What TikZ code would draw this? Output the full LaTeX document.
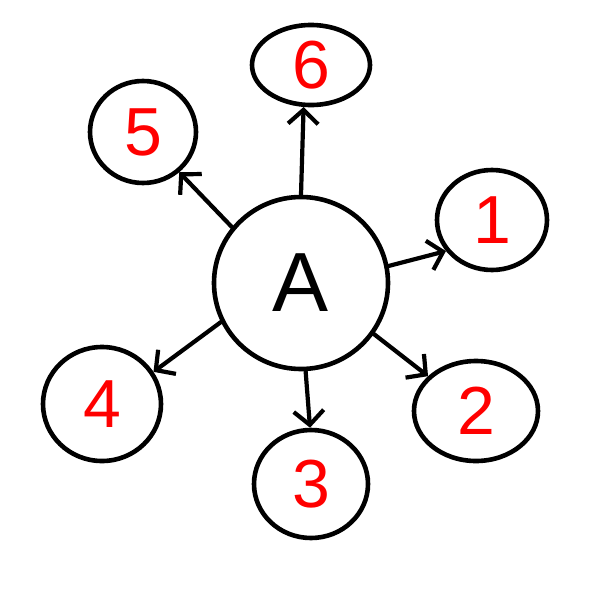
\documentclass[tikz,border=0pt]{standalone}
\usepackage{fontspec}
\setmainfont{Liberation Sans}
\usetikzlibrary{shapes.geometric,arrows.meta}
\begin{document}
\begin{tikzpicture}[x=1pt,y=-1pt,
  bubble/.style={ellipse,draw=black,line width=4.6pt,inner sep=0pt,text=red,
    font=\fontsize{68}{68}\selectfont},
  hub/.style={ellipse,draw=black,line width=4.6pt,inner sep=0pt,text=black,
    font=\fontsize{84}{84}\selectfont},
  link/.style={line width=4.2pt,line cap=round,
    -{Straight Barb[length=14pt,width=30pt,line width=4.2pt]}}]
\useasboundingbox (0,0) rectangle (600,600);
\fill[white] (0,0) rectangle (600,600);
\node[hub,minimum width=174pt,minimum height=172pt] (A) at (301,283) {A};
\node[bubble,minimum width=118pt,minimum height=80pt] (n6) at (311,65) {6};
\node[bubble,minimum width=106pt,minimum height=102pt] (n5) at (143,132) {5};
\node[bubble,minimum width=110pt,minimum height=100pt] (n1) at (492,220) {1};
\node[bubble,minimum width=124pt,minimum height=100pt] (n2) at (476,411) {2};
\node[bubble,minimum width=114pt,minimum height=108pt] (n3) at (311,484) {3};
\node[bubble,minimum width=118pt,minimum height=114pt] (n4) at (102,404) {4};
\draw[link] (A.90) -- (n6.-100);
\draw[link] (A.141) -- (n5.-48);
\draw[link] (A.11) -- (n1.-146);
\draw[link] (A.-35) -- (n2.144);
\draw[link] (A.-87) -- (n3.91);
\draw[link] (A.-154) -- (n4.32);
\end{tikzpicture}
\end{document}
